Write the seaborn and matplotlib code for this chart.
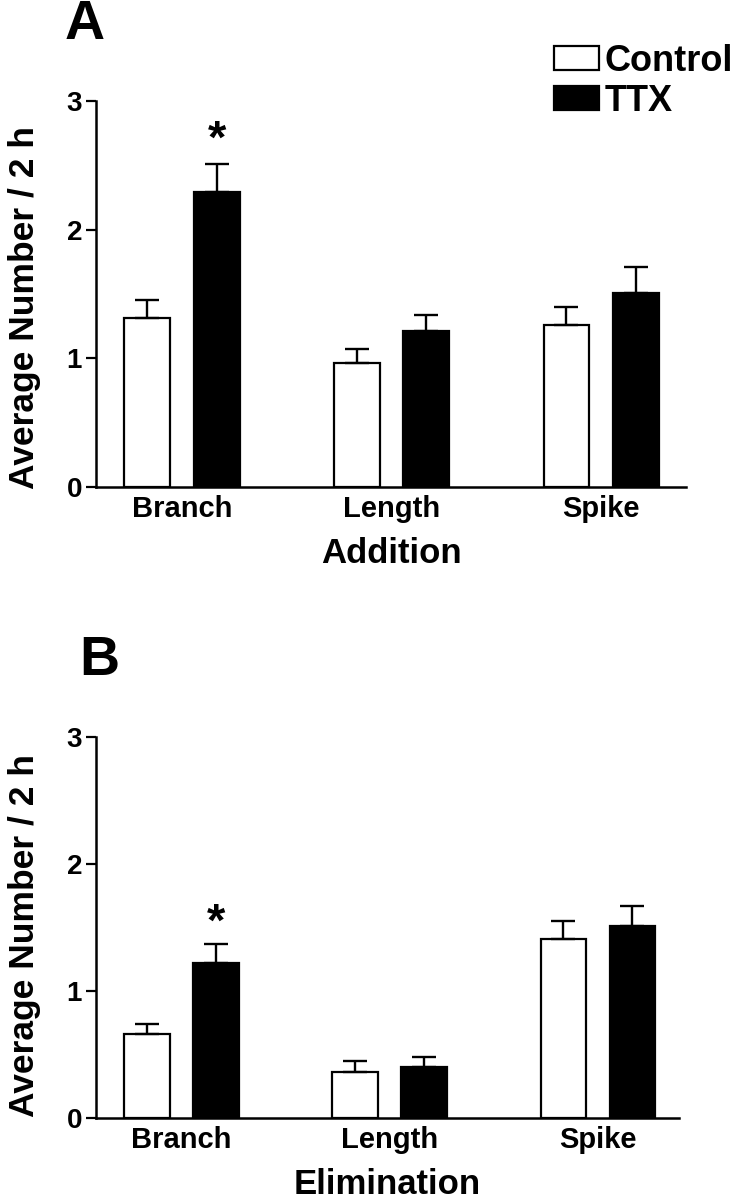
import numpy as np
import pandas as pd
import seaborn as sns
import matplotlib.pyplot as plt
from matplotlib.patches import Patch

# ---- data ----
categories = ["Branch", "Length", "Spike"]
groups = ["Control", "TTX"]
addition_control = [1.31, 0.96, 1.26]
addition_ttx = [2.29, 1.21, 1.51]
addition_control_err = [0.14, 0.11, 0.14]
addition_ttx_err = [0.22, 0.13, 0.20]
elimination_control = [0.66, 0.36, 1.41]
elimination_ttx = [1.22, 0.40, 1.51]
elimination_control_err = [0.08, 0.09, 0.14]
elimination_ttx_err = [0.15, 0.08, 0.16]
yticks = [0, 1, 2, 3]
star_addition = {"Branch": 2.69}
star_elimination = {"Branch": 1.53}

sns.set_theme(style="ticks")
plt.rcParams["font.family"] = ["Liberation Sans", "DejaVu Sans"]
plt.rcParams["font.weight"] = "bold"
plt.rcParams["axes.labelweight"] = "bold"
plt.rcParams["text.color"] = "black"
plt.rcParams["axes.labelcolor"] = "black"
plt.rcParams["xtick.color"] = "black"
plt.rcParams["ytick.color"] = "black"

fig = plt.figure(figsize=(7.41, 11.99), dpi=100)
W, H = 741, 1199


def axes_px(left, right, top, bottom):
    return fig.add_axes([left / W, 1 - bottom / H, (right - left) / W, (bottom - top) / H])


def panel(ax, ctrl, ttx, ctrl_err, ttx_err, xlabel, stars, xmax, ylab_y):
    df = pd.DataFrame({
        "cat": categories * 2,
        "group": ["Control"] * 3 + ["TTX"] * 3,
        "val": list(ctrl) + list(ttx),
    })
    errs = {("Control", c): e for c, e in zip(categories, ctrl_err)}
    errs.update({("TTX", c): e for c, e in zip(categories, ttx_err)})
    sns.barplot(data=df, x="cat", y="val", hue="group", order=categories,
                hue_order=groups, palette={"Control": "white", "TTX": "black"},
                edgecolor="black", linewidth=1.6, width=0.662, gap=0.34,
                errorbar=None, legend=False, ax=ax, saturation=1)
    for p in ax.patches:
        h = p.get_height()
        if h is None or np.isnan(h) or h == 0:
            continue
        cx = p.get_x() + p.get_width() / 2
        ci = int(round(cx))
        grp = "Control" if cx < ci else "TTX"
        e = errs[(grp, categories[ci])]
        ax.errorbar(cx, h, yerr=[[0], [e]], fmt="none", ecolor="black",
                    elinewidth=1.7, capsize=8.5, capthick=1.7, zorder=1)
        if grp == "TTX" and categories[ci] in stars:
            ax.text(cx, stars[categories[ci]], "*", ha="center", va="center",
                    fontsize=34, fontweight="bold", color="black")
    ax.set_ylim(0, 3)
    ax.set_xlim(-0.41, xmax)
    ax.set_yticks(yticks)
    ax.set_yticklabels([str(t) for t in yticks])
    sns.despine(ax=ax)
    for s in ["left", "bottom"]:
        ax.spines[s].set_linewidth(1.8)
        ax.spines[s].set_color("black")
    ax.tick_params(axis="y", length=7, width=1.6, pad=3, labelsize=20, colors="black")
    ax.tick_params(axis="x", length=0, pad=6, labelsize=21, colors="black")
    for t in ax.get_xticklabels() + ax.get_yticklabels():
        t.set_fontweight("bold")
    ax.set_xlabel(xlabel, fontsize=25, fontweight="bold", labelpad=10, color="black")
    ax.set_ylabel("Average Number / 2 h", fontsize=25.5, fontweight="bold", color="black")
    ax.yaxis.set_label_coords(-0.094, ylab_y)
    ax.set_facecolor("white")


axA = axes_px(96, 686, 101, 487)
panel(axA, addition_control, addition_ttx, addition_control_err, addition_ttx_err,
      "Addition", star_addition, 2.405, 0.464)

axB = axes_px(96, 679, 737, 1118)
panel(axB, elimination_control, elimination_ttx, elimination_control_err,
      elimination_ttx_err, "Elimination", star_elimination, 2.39, 0.48)

fig.text(85 / W, 1 - 25 / H, "A", ha="center", va="center", fontsize=40, fontweight="bold")
fig.text(99 / W, 1 - 661 / H, "B", ha="center", va="center", fontsize=40, fontweight="bold")

handles = [Patch(facecolor="white", edgecolor="black", linewidth=1.6, label="Control"),
           Patch(facecolor="black", edgecolor="black", linewidth=1.6, label="TTX")]
fig.legend(handles=handles, loc="upper left", bbox_to_anchor=(554 / W, 1 - 44 / H),
           frameon=False, handlelength=1.25, handleheight=0.65,
           handletextpad=0.15, labelspacing=0.14, borderpad=0, borderaxespad=0,
           prop={"weight": "bold", "size": 26})

fig.savefig("out.png", dpi=100, facecolor="white")
